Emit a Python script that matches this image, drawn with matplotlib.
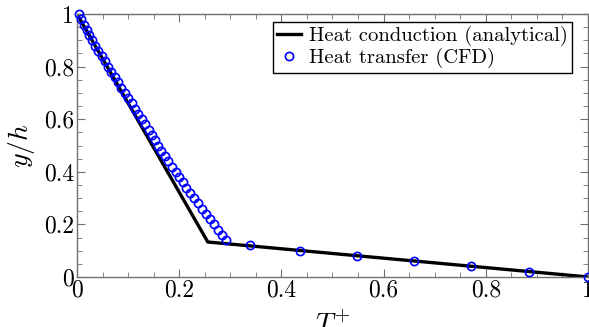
import numpy as np
import matplotlib
matplotlib.use("Agg")
import matplotlib.pyplot as plt
from matplotlib.ticker import MultipleLocator, FuncFormatter

plt.rcParams['font.family'] = 'serif'
plt.rcParams['font.serif'] = ['cmr10']
plt.rcParams['mathtext.fontset'] = 'cm'
plt.rcParams['axes.formatter.use_mathtext'] = True

# analytical heat conduction profile
t_analytic = [0.0, 0.256, 1.0]
y_analytic = [1.0, 0.133, 0.0]

# CFD heat transfer points
t_cfd = [0.003, 0.008, 0.013, 0.019, 0.024, 0.030, 0.036, 0.042, 0.048, 0.054,
         0.060, 0.067, 0.074, 0.080, 0.087, 0.093, 0.100, 0.107, 0.114, 0.120,
         0.127, 0.133, 0.140, 0.146, 0.153, 0.159, 0.165, 0.172, 0.179, 0.186,
         0.193, 0.200, 0.207, 0.214, 0.221, 0.229, 0.236, 0.244, 0.252, 0.260,
         0.268, 0.276, 0.284, 0.292,
         0.339, 0.436, 0.547, 0.659, 0.772, 0.885, 1.0]
y_cfd = [1.00, 0.98, 0.96, 0.94, 0.92, 0.90, 0.88, 0.86, 0.84, 0.82,
         0.80, 0.78, 0.76, 0.74, 0.72, 0.70, 0.68, 0.66, 0.64, 0.62,
         0.60, 0.58, 0.56, 0.54, 0.52, 0.50, 0.48, 0.46, 0.44, 0.42,
         0.40, 0.38, 0.36, 0.34, 0.32, 0.30, 0.28, 0.26, 0.24, 0.22,
         0.20, 0.18, 0.16, 0.14,
         0.12, 0.10, 0.08, 0.06, 0.04, 0.02, 0.0]

fig = plt.figure(figsize=(5.89, 3.27), dpi=100)
ax = fig.add_axes([0.1307, 0.153, 0.8676, 0.804])

ax.plot(t_analytic, y_analytic, color='black', lw=2.4,
        label='Heat conduction (analytical)', zorder=2)
ax.plot(t_cfd, y_cfd, 'o', mfc='none', mec='blue', ms=5.9, mew=1.2,
        label='Heat transfer (CFD)', zorder=3, clip_on=False)

ax.set_xlim(0, 1)
ax.set_ylim(0, 1)
ax.xaxis.set_major_locator(MultipleLocator(0.2))
ax.yaxis.set_major_locator(MultipleLocator(0.2))
ax.xaxis.set_minor_locator(MultipleLocator(0.05))
ax.yaxis.set_minor_locator(MultipleLocator(0.05))
fmt = FuncFormatter(lambda v, p: '%g' % round(v, 2))
ax.xaxis.set_major_formatter(fmt)
ax.yaxis.set_major_formatter(fmt)

for s in ax.spines.values():
    s.set_color('#707070')
    s.set_linewidth(1.0)
ax.tick_params(which='both', direction='in', top=True, right=True,
               color='#707070', labelsize=17, pad=2)
ax.tick_params(which='major', length=6)
ax.tick_params(which='minor', length=3.5)

ax.set_xlabel(r'$T^{+}$', fontsize=20, labelpad=7)
ax.set_ylabel(r'$y/h$', fontsize=20, labelpad=5)

leg = ax.legend(loc='upper right', bbox_to_anchor=(0.969, 0.970),
                fontsize=14.8, frameon=True, fancybox=False,
                edgecolor='black', framealpha=1, borderpad=0.2,
                handlelength=1.15, handletextpad=0.4, borderaxespad=0.0,
                labelspacing=0.1)
leg.get_frame().set_linewidth(1.0)

fig.savefig('out.png', dpi=100)
